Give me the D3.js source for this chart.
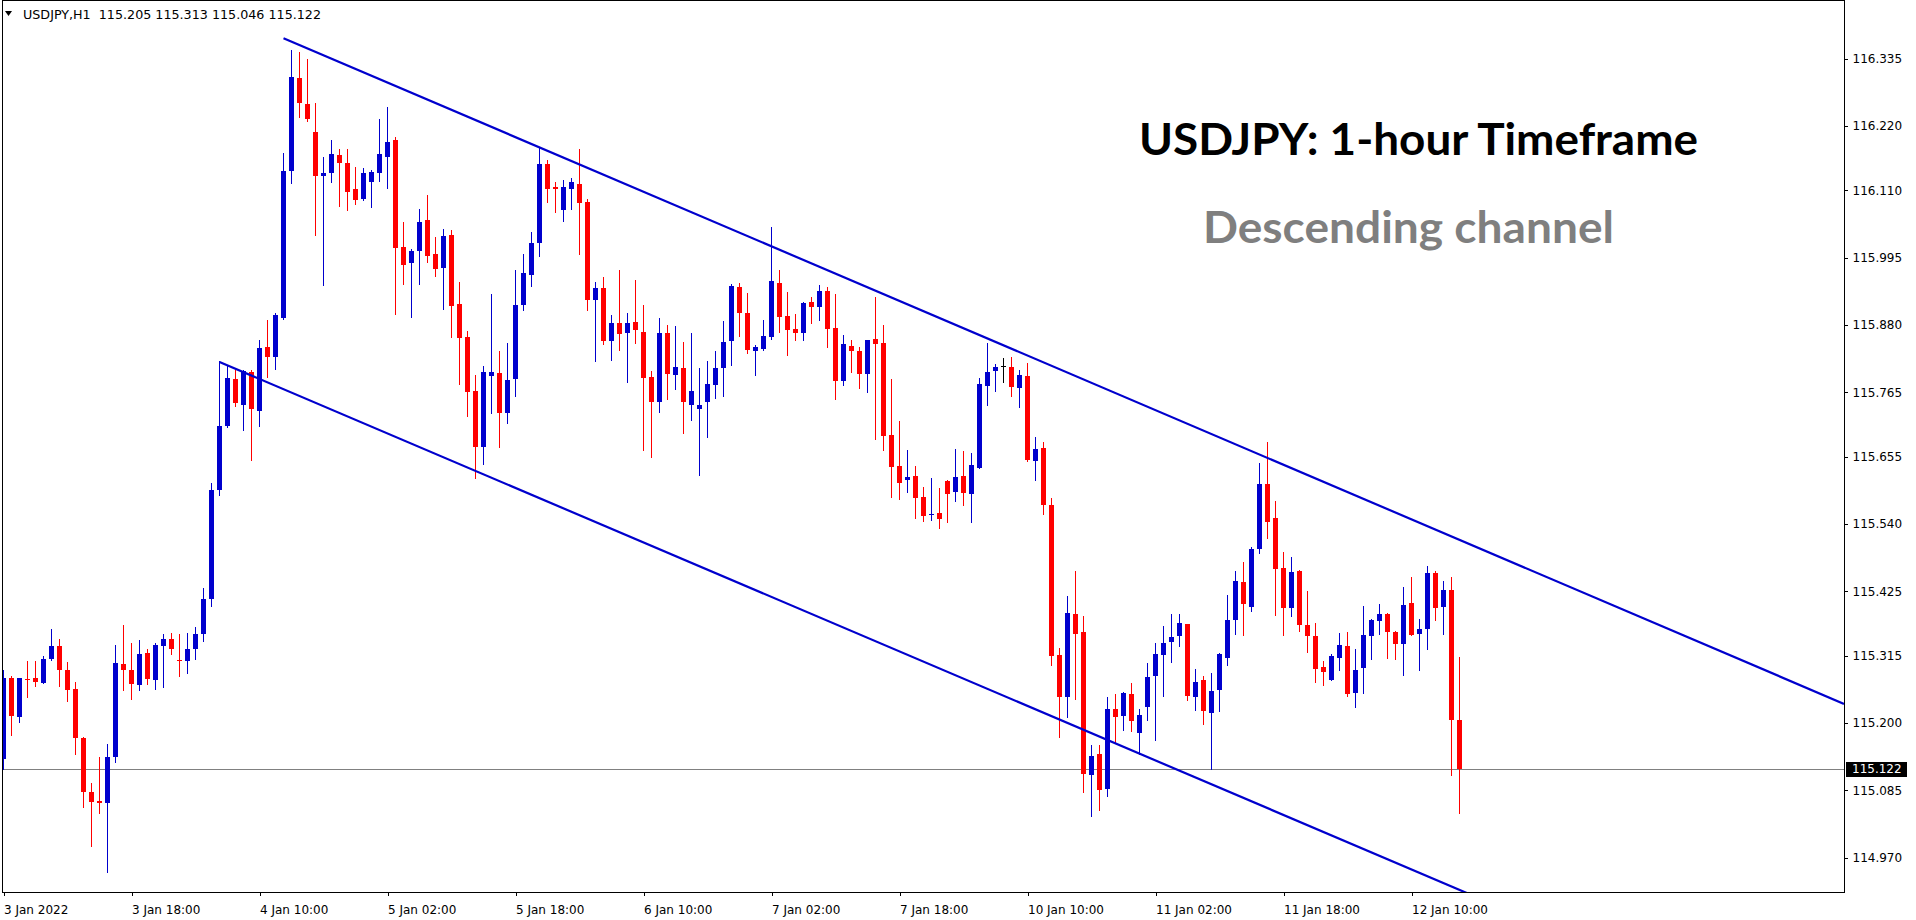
<!DOCTYPE html>
<html><head><meta charset="utf-8">
<script src="https://cdn.jsdelivr.net/npm/d3@7"></script>
<style>html,body{margin:0;padding:0;background:#fff;overflow:hidden}</style>
</head><body><svg id="c" width="1916" height="920"></svg>
<script>
// ---- DATA (USDJPY H1, bars from 3 Jan 2022 00:00) ----
const opens = [115.139,115.277,115.211,115.275,115.277,115.269,115.310,115.332,115.291,115.258,115.175,115.083,115.067,115.064,115.143,115.301,115.291,115.266,115.320,115.274,115.332,115.344,115.308,115.307,115.327,115.352,115.412,115.598,115.708,115.787,115.744,115.800,115.734,115.843,115.826,115.892,116.143,116.302,116.258,116.210,116.135,116.139,116.171,116.157,116.113,116.096,116.125,116.139,116.167,116.196,116.014,115.986,116.007,116.059,116.001,115.978,116.034,115.916,115.859,115.767,115.671,115.793,115.798,115.729,115.787,115.915,115.966,116.020,116.155,116.116,116.077,116.113,116.121,116.090,115.922,115.943,115.853,115.884,115.867,115.885,115.868,115.791,115.748,115.867,115.795,115.807,115.744,115.736,115.748,115.778,115.806,115.852,115.945,115.901,115.836,115.839,115.860,115.952,115.896,115.873,115.867,115.919,115.910,115.938,115.875,115.785,115.844,115.836,115.797,115.856,115.850,115.692,115.639,115.615,115.622,115.586,115.555,115.559,115.614,115.595,115.622,115.592,115.636,115.776,115.802,115.810,115.808,115.773,115.793,115.648,115.670,115.573,115.316,115.244,115.387,115.356,115.111,115.148,115.088,115.225,115.213,115.250,115.184,115.228,115.280,115.317,115.338,115.348,115.370,115.244,115.274,115.218,115.256,115.312,115.377,115.441,115.399,115.497,115.609,115.551,115.465,115.396,115.460,115.368,115.349,115.296,115.273,115.312,115.332,115.252,115.295,115.348,115.374,115.387,115.356,115.336,115.405,115.353,115.360,115.457,115.399,115.428,115.205];
const highs = [115.291,115.280,115.277,115.306,115.306,115.315,115.361,115.344,115.305,115.270,115.177,115.098,115.142,115.164,115.334,115.368,115.337,115.342,115.327,115.337,115.352,115.354,115.352,115.354,115.365,115.430,115.610,115.818,115.812,115.804,115.803,115.803,115.855,115.889,115.900,116.174,116.350,116.346,116.334,116.259,116.167,116.196,116.181,116.181,116.150,116.148,116.145,116.232,116.252,116.201,116.056,116.010,116.078,116.102,116.030,116.044,116.042,115.953,115.870,115.795,115.810,115.933,115.836,115.849,115.974,116.001,116.039,116.182,116.162,116.124,116.128,116.131,116.181,116.095,115.954,115.962,115.897,115.974,115.901,115.957,115.914,115.802,115.892,115.880,115.878,115.851,115.866,115.807,115.819,115.836,115.887,115.950,115.952,115.935,115.846,115.889,116.047,115.974,115.937,115.899,115.919,115.928,115.948,115.945,115.933,115.863,115.855,115.843,115.855,115.928,115.880,115.788,115.716,115.667,115.640,115.604,115.619,115.602,115.616,115.668,115.665,115.662,115.790,115.849,115.814,115.824,115.825,115.803,115.815,115.689,115.680,115.585,115.329,115.417,115.460,115.383,115.163,115.163,115.245,115.250,115.253,115.269,115.224,115.303,115.337,115.366,115.387,115.387,115.370,115.293,115.281,115.286,115.320,115.419,115.460,115.475,115.501,115.644,115.680,115.580,115.492,115.484,115.462,115.426,115.371,115.306,115.318,115.354,115.356,115.327,115.400,115.378,115.404,115.388,115.357,115.433,115.450,115.378,115.469,115.460,115.443,115.450,115.313];
const lows = [115.121,115.179,115.202,115.244,115.264,115.269,115.308,115.264,115.237,115.148,115.056,114.991,115.047,114.946,115.134,115.257,115.242,115.256,115.267,115.259,115.261,115.318,115.281,115.286,115.310,115.340,115.400,115.590,115.705,115.742,115.701,115.650,115.708,115.792,115.805,115.891,116.123,116.235,116.229,116.033,115.948,116.125,116.084,116.076,116.086,116.093,116.081,116.126,116.114,115.899,115.950,115.894,115.950,115.988,115.964,115.908,115.860,115.780,115.725,115.618,115.643,115.730,115.671,115.713,115.759,115.906,115.947,115.998,116.090,116.073,116.057,116.079,116.002,115.906,115.819,115.847,115.821,115.838,115.783,115.850,115.667,115.655,115.732,115.753,115.771,115.695,115.717,115.623,115.688,115.756,115.758,115.812,115.862,115.833,115.795,115.838,115.856,115.868,115.829,115.855,115.855,115.884,115.889,115.843,115.753,115.778,115.799,115.773,115.765,115.686,115.666,115.587,115.582,115.594,115.550,115.545,115.547,115.534,115.544,115.580,115.573,115.544,115.636,115.744,115.767,115.783,115.759,115.740,115.648,115.615,115.558,115.300,115.177,115.210,115.242,115.082,115.041,115.051,115.075,115.166,115.189,115.187,115.148,115.205,115.172,115.247,115.305,115.331,115.240,115.223,115.199,115.121,115.220,115.300,115.353,115.350,115.391,115.491,115.517,115.384,115.351,115.383,115.358,115.321,115.271,115.266,115.273,115.290,115.247,115.228,115.251,115.309,115.353,115.312,115.309,115.283,115.350,115.290,115.326,115.377,115.353,115.112,115.046];
const closes = [115.277,115.213,115.277,115.273,115.271,115.310,115.332,115.290,115.256,115.174,115.082,115.066,115.064,115.142,115.303,115.290,115.267,115.318,115.276,115.334,115.344,115.327,115.306,115.327,115.352,115.412,115.598,115.708,115.790,115.746,115.801,115.737,115.841,115.826,115.897,116.143,116.304,116.259,116.232,116.135,116.140,116.172,116.156,116.108,116.094,116.140,116.141,116.172,116.192,116.012,115.983,116.006,116.056,115.998,115.976,116.032,115.913,115.858,115.766,115.672,115.800,115.800,115.730,115.786,115.914,115.969,116.020,116.155,116.113,116.113,116.116,116.124,116.089,115.923,115.943,115.853,115.884,115.865,115.884,115.871,115.789,115.748,115.867,115.797,115.808,115.748,115.768,115.744,115.779,115.807,115.851,115.947,115.900,115.838,115.843,115.861,115.955,115.894,115.872,115.867,115.918,115.911,115.938,115.874,115.785,115.848,115.836,115.797,115.855,115.848,115.691,115.637,115.611,115.621,115.584,115.554,115.557,115.549,115.592,115.621,115.593,115.641,115.779,115.800,115.808,115.810,115.774,115.795,115.650,115.668,115.573,115.314,115.244,115.388,115.353,115.113,115.144,115.085,115.225,115.211,115.252,115.203,115.214,115.279,115.318,115.337,115.347,115.371,115.246,115.271,115.220,115.255,115.318,115.376,115.443,115.403,115.498,115.609,115.544,115.464,115.396,115.458,115.367,115.348,115.293,115.288,115.315,115.334,115.249,115.291,115.351,115.376,115.387,115.355,115.336,115.402,115.351,115.361,115.457,115.397,115.428,115.206,115.122];

const timeTickBars   = [0, 16, 32, 48, 64, 80, 96, 112, 128, 144, 160, 176];
const timeTickLabels = ["3 Jan 2022","3 Jan 18:00","4 Jan 10:00","5 Jan 02:00","5 Jan 18:00","6 Jan 10:00","7 Jan 02:00","7 Jan 18:00","10 Jan 10:00","11 Jan 02:00","11 Jan 18:00","12 Jan 10:00"];
const priceTicks = [116.335,116.220,116.110,115.995,115.880,115.765,115.655,115.540,115.425,115.315,115.200,115.085,114.970];

// channel anchors: [bar index, price]
const upperChannel = [[35, 116.370], [158, 115.653]];
const lowerChannel = [[27, 115.817], [137, 115.177]];

const symbolHeader = "USDJPY,H1  115.205 115.313 115.046 115.122";
const lastPrice = 115.122;
const titleText = "USDJPY: 1-hour Timeframe";
const subtitleText = "Descending channel";

// ---- LAYOUT ----
const plot = {left: 2, right: 1844, top: 0, bottom: 892};
const x = d3.scaleLinear().domain([0, 230]).range([3.5, 1843.5]);
const y = d3.scaleLinear().domain([114.970, 116.335]).range([857.8, 58.65]);
const BLUE = "#0000cd", RED = "#ff0000";

const svg = d3.select("#c");
svg.append("rect").attr("width",1916).attr("height",920).attr("fill","#fff");
svg.append("defs").append("clipPath").attr("id","clip")
  .append("rect").attr("x",plot.left+1).attr("y",plot.top+1)
  .attr("width",plot.right-plot.left-1).attr("height",plot.bottom-plot.top-1);

const g = svg.append("g").attr("clip-path","url(#clip)");

// current price line
const yLast = Math.round(y(lastPrice)) + 0.5;
g.append("line").attr("x1",plot.left).attr("x2",plot.right)
  .attr("y1",yLast).attr("y2",yLast).attr("stroke","#808080").attr("stroke-width",1)
  .attr("shape-rendering","crispEdges");

// candles
const idx = d3.range(opens.length);
const col = i => closes[i] > opens[i] ? BLUE : (closes[i] < opens[i] ? RED : "#000");
g.selectAll("line.wick").data(idx).join("line").attr("class","wick")
  .attr("x1", i => x(i)).attr("x2", i => x(i))
  .attr("y1", i => Math.round(y(highs[i]))).attr("y2", i => Math.round(y(lows[i])) + 1)
  .attr("stroke", col).attr("stroke-width",1).attr("shape-rendering","crispEdges");
g.selectAll("rect.body").data(idx).join("rect").attr("class","body")
  .attr("x", i => x(i) - 2.5).attr("width", 5)
  .attr("y", i => Math.round(y(Math.max(opens[i], closes[i]))))
  .attr("height", i => Math.max(1, Math.round(y(Math.min(opens[i], closes[i]))) - Math.round(y(Math.max(opens[i], closes[i])))))
  .attr("fill", col).attr("shape-rendering","crispEdges");

// channel lines (rays extended to the right edge)
function ray(a) {
  const [b1,p1] = a[0], [b2,p2] = a[1];
  const bEnd = x.invert(plot.right);
  const pEnd = p1 + (p2 - p1) * (bEnd - b1) / (b2 - b1);
  return [[x(b1), y(p1)], [x(bEnd), y(pEnd)]];
}
[upperChannel, lowerChannel].forEach(c => {
  g.append("path").attr("d", d3.line()(ray(c)))
    .attr("stroke", BLUE).attr("stroke-width", 2.2).attr("fill","none");
});

// border
svg.append("rect").attr("x",plot.left+0.5).attr("y",plot.top+0.5)
  .attr("width",plot.right-plot.left).attr("height",plot.bottom-plot.top)
  .attr("fill","none").attr("stroke","#000").attr("stroke-width",1).attr("shape-rendering","crispEdges");

// price axis
const yAxis = d3.axisRight(y).tickValues(priceTicks).tickFormat(d3.format(".3f")).tickSize(3).tickPadding(5);
const ya = svg.append("g").attr("transform",`translate(${plot.right+0.5},0)`).call(yAxis);
ya.select(".domain").remove();
ya.selectAll("line").attr("stroke","#000").attr("shape-rendering","crispEdges");
ya.selectAll("text").attr("font-family","DejaVu Sans").attr("font-size",12).attr("fill","#000");

// current price label
svg.append("rect").attr("x",1846).attr("y",Math.round(y(lastPrice)) - 7).attr("width",61).attr("height",15).attr("fill","#000");
svg.append("text").attr("x",1852).attr("y",y(lastPrice)).attr("dy","0.36em")
  .attr("font-family","DejaVu Sans").attr("font-size",12).attr("fill","#fff").text(d3.format(".3f")(lastPrice));

// time axis
const xAxis = d3.axisBottom(x).tickValues(timeTickBars).tickFormat((d,i) => timeTickLabels[i]).tickSize(3).tickPadding(10);
const xa = svg.append("g").attr("transform",`translate(0,${plot.bottom+0.5})`).call(xAxis);
xa.select(".domain").remove();
xa.selectAll("line").attr("stroke","#000").attr("shape-rendering","crispEdges");
xa.selectAll("text").attr("font-family","DejaVu Sans").attr("font-size",12).attr("fill","#000")
  .attr("text-anchor","start").attr("dx", 0);

// header
svg.append("path").attr("d","M5,11 L12,11 L8.5,16 Z").attr("fill","#000");
svg.append("text").attr("x",23).attr("y",19).attr("font-family","DejaVu Sans").attr("font-size",11.5)
  .attr("fill","#000").attr("textLength",298).attr("lengthAdjust","spacingAndGlyphs")
  .style("white-space","pre").text(symbolHeader);

// titles
svg.append("text").attr("x",1139).attr("y",155).attr("font-family","Lato").attr("font-weight","bold")
  .attr("font-size",44).attr("fill","#000").attr("textLength",559).attr("lengthAdjust","spacingAndGlyphs").text(titleText);
svg.append("text").attr("x",1203).attr("y",243).attr("font-family","Lato").attr("font-weight","bold")
  .attr("font-size",44).attr("fill","#7f7f7f").attr("textLength",411).attr("lengthAdjust","spacingAndGlyphs").text(subtitleText);
</script></body></html>
